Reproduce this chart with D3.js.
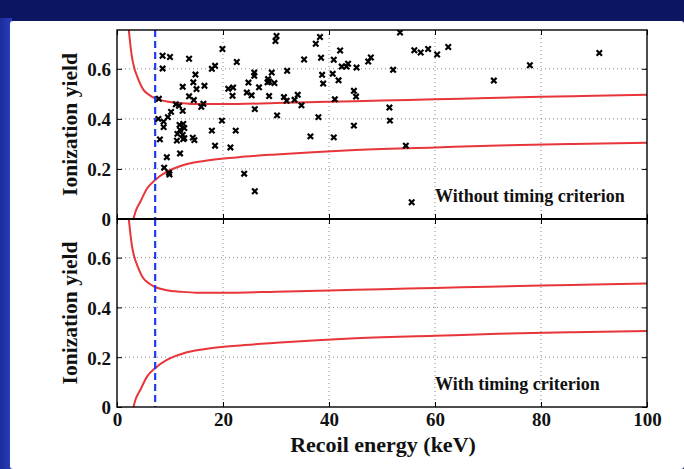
<!DOCTYPE html>
<html><head><meta charset="utf-8">
<script src="https://cdn.jsdelivr.net/npm/d3@7"></script>
<style>
html,body{margin:0;padding:0;background:#0b1562;}
svg{display:block;}
text{font-family:"Liberation Serif","Times New Roman",serif;font-weight:bold;fill:#111;}
</style></head>
<body>
<svg id="c" width="684" height="469"></svg>
<script>
// ---- data ----
const xTicks = [0, 20, 40, 60, 80, 100];
const yTicks = [0, 0.2, 0.4, 0.6];
const yTickLabels = ["0", "0.2", "0.4", "0.6"];
const xTickLabels = ["0", "20", "40", "60", "80", "100"];
const thresholdE = 7.2;

const eventE = [8.6,10.0,8.6,7.9,7.8,8.8,9.6,10.2,8.8,8.1,9.4,8.9,9.9,9.8,
  13.6,14.8,14.4,12.4,16.5,15.0,13.6,14.5,11.1,11.7,12.4,11.8,12.5,12.7,11.9,11.4,12.4,12.7,11.3,12.5,14.3,14.6,11.9,15.9,16.3,
  19.9,17.9,18.5,22.6,21.0,21.9,21.8,19.8,17.9,18.5,21.4,22.4,
  24.8,24.5,25.4,25.9,25.9,26.8,26.0,24.0,26.0,28.5,28.7,28.4,29.7,29.2,28.7,30.1,29.9,30.2,
  32.1,31.5,32.0,33.5,34.1,34.8,35.3,36.5,38.0,37.5,38.3,38.5,38.7,38.9,
  40.7,40.9,40.9,41.1,41.8,42.1,42.4,43.3,43.6,45.2,47.4,47.9,44.7,45.1,44.7,
  51.4,51.5,52.1,53.4,54.5,55.6,56.1,57.3,58.7,60.4,62.5,71.1,77.9,91.0];
const eventY = [0.652,0.647,0.601,0.480,0.400,0.389,0.407,0.428,0.367,0.318,0.247,0.205,0.178,0.185,
  0.640,0.577,0.546,0.528,0.532,0.519,0.490,0.475,0.458,0.452,0.432,0.376,0.380,0.363,0.356,0.340,0.336,0.323,0.313,0.319,0.325,0.315,0.262,0.448,0.460,
  0.679,0.600,0.612,0.627,0.520,0.525,0.492,0.393,0.353,0.293,0.286,0.353,
  0.545,0.505,0.494,0.585,0.572,0.526,0.439,0.181,0.111,0.559,0.549,0.546,0.543,0.585,0.491,0.731,0.711,0.414,
  0.592,0.487,0.472,0.476,0.496,0.454,0.637,0.330,0.407,0.700,0.727,0.644,0.576,0.541,
  0.580,0.636,0.326,0.478,0.554,0.673,0.609,0.609,0.620,0.605,0.629,0.645,0.512,0.489,0.373,
  0.445,0.393,0.596,0.745,0.293,0.067,0.674,0.665,0.679,0.657,0.687,0.553,0.614,0.663];

const upperE = [2.2,2.5,2.8,3.3,3.8,5,6,7,8,9.4,12,15,20,30,40,50,60,70,80,90,100];
const upperY = [0.76,0.70,0.65,0.60,0.57,0.516,0.497,0.484,0.476,0.469,0.463,0.459,0.459,0.463,0.468,0.473,0.478,0.483,0.488,0.492,0.496];
const lowerE = [3.1,3.5,4.4,5.7,7.2,9.4,12.6,16.4,22.5,30,44,60,72,86,100];
const lowerY = [0,0.03,0.069,0.123,0.156,0.189,0.216,0.232,0.246,0.258,0.275,0.286,0.294,0.300,0.305];

const panels = [
  {label: "Without timing criterion", events: true},
  {label: "With timing criterion", events: false}
];

// ---- layout ----
const svg = d3.select("#c");
const L = 117, R = 647, T = 30, M = 219, B = 407;

// background
const defs = svg.append("defs");
const lg = defs.append("linearGradient").attr("id","lb").attr("x1",0).attr("x2",1).attr("y1",0).attr("y2",0);
lg.append("stop").attr("offset","0%").attr("stop-color","#1b2c9c");
lg.append("stop").attr("offset","100%").attr("stop-color","#2a3fb8");
svg.append("rect").attr("x",0).attr("y",0).attr("width",684).attr("height",469).attr("fill","#0b1562");
svg.append("rect").attr("x",0).attr("y",18).attr("width",12).attr("height",451).attr("fill","url(#lb)");
svg.append("rect").attr("x",10).attr("y",21).attr("width",674).attr("height",448).attr("fill","#ffffff").attr("rx",3);

const x = d3.scaleLinear().domain([0,100]).range([L,R]);
const yScales = [
  d3.scaleLinear().domain([0,0.755]).range([M,T]),
  d3.scaleLinear().domain([0,0.755]).range([B,M])
];

panels.forEach((p,i)=>{
  const y = yScales[i];
  const top = y.range()[1], bot = y.range()[0];
  const g = svg.append("g");
  const clipId = "clip"+i;
  defs.append("clipPath").attr("id",clipId).append("rect")
    .attr("x",L).attr("y",top).attr("width",R-L).attr("height",bot-top);

  // grid
  g.selectAll(".gx").data(xTicks.slice(1,-1)).join("line")
    .attr("x1",d=>x(d)).attr("x2",d=>x(d)).attr("y1",top).attr("y2",bot)
    .attr("stroke","#888").attr("stroke-width",1).attr("stroke-dasharray","1,3");
  g.selectAll(".gy").data(yTicks.slice(1)).join("line")
    .attr("y1",d=>y(d)).attr("y2",d=>y(d)).attr("x1",L).attr("x2",R)
    .attr("stroke","#888").attr("stroke-width",1).attr("stroke-dasharray","1,3");

  const cg = g.append("g").attr("clip-path",`url(#${clipId})`);
  const line = d3.line().x(d=>x(d[0])).y(d=>y(d[1])).curve(d3.curveMonotoneX);
  cg.append("path").datum(upperE.map((e,k)=>[e,upperY[k]])).attr("d",line)
    .attr("fill","none").attr("stroke","#e8353a").attr("stroke-width",2);
  cg.append("path").datum(lowerE.map((e,k)=>[e,lowerY[k]])).attr("d",line)
    .attr("fill","none").attr("stroke","#e8353a").attr("stroke-width",2);

  // threshold
  cg.append("line").attr("x1",x(thresholdE)).attr("x2",x(thresholdE)).attr("y1",top).attr("y2",bot)
    .attr("stroke","#1f3cf0").attr("stroke-width",2.2).attr("stroke-dasharray","7,4");

  if (p.events) {
    const s = 2.7;
    cg.selectAll(".ev").data(eventE.map((e,k)=>[e,eventY[k]])).join("path")
      .attr("d",d=>{const cx=x(d[0]), cy=y(d[1]);
        return `M${cx-s},${cy-s}L${cx+s},${cy+s}M${cx-s},${cy+s}L${cx+s},${cy-s}`;})
      .attr("stroke","#000").attr("stroke-width",2.2).attr("fill","none");
  }

  // axes (inward ticks)
  const yAx = d3.axisLeft(y).tickValues(yTicks).tickFormat((d,k)=>yTickLabels[k]).tickSizeInner(-5).tickSizeOuter(0).tickPadding(6);
  const ag = svg.append("g").attr("transform",`translate(${L},0)`).call(yAx);
  ag.select(".domain").remove();
  ag.selectAll("text").style("font-size","19px").attr("dy","0.36em");
  ag.selectAll("line").attr("stroke","#000");
  const yAxR = d3.axisRight(y).tickValues(yTicks).tickFormat("").tickSizeInner(-5).tickSizeOuter(0);
  const agr = svg.append("g").attr("transform",`translate(${R},0)`).call(yAxR);
  agr.select(".domain").remove();
  const xAxT = d3.axisTop(x).tickValues(xTicks).tickFormat("").tickSizeInner(-5).tickSizeOuter(0);
  const agt = svg.append("g").attr("transform",`translate(0,${top})`).call(xAxT);
  agt.select(".domain").remove();
  const xAxB = d3.axisBottom(x).tickValues(xTicks).tickFormat("").tickSizeInner(-5).tickSizeOuter(0);
  const agb = svg.append("g").attr("transform",`translate(0,${bot})`).call(xAxB);
  agb.select(".domain").remove();

  // frame
  svg.append("rect").attr("x",L).attr("y",top).attr("width",R-L).attr("height",bot-top)
    .attr("fill","none").attr("stroke","#000").attr("stroke-width",1.4);

  // y label
  svg.append("text").attr("transform",`translate(77,${(top+bot)/2}) rotate(-90)`)
    .attr("text-anchor","middle").style("font-size","21.5px").text("Ionization yield");

  // annotation
  svg.append("text").attr("x",x(60)).attr("y",bot-17).attr("text-anchor","start")
    .style("font-size","18px").text(p.label);
});

// middle separator line thicker
svg.append("line").attr("x1",L).attr("x2",R).attr("y1",M).attr("y2",M).attr("stroke","#000").attr("stroke-width",2);

// x axis labels
const xAx = d3.axisBottom(x).tickValues(xTicks).tickFormat((d,k)=>xTickLabels[k]).tickSize(0).tickPadding(6);
const xg = svg.append("g").attr("transform",`translate(0,${B})`).call(xAx);
xg.select(".domain").remove();
xg.selectAll("text").style("font-size","19px");

svg.append("text").attr("x",(L+R)/2+1).attr("y",452).attr("text-anchor","middle")
  .style("font-size","22px").text("Recoil energy (keV)");
</script>
</body></html>
